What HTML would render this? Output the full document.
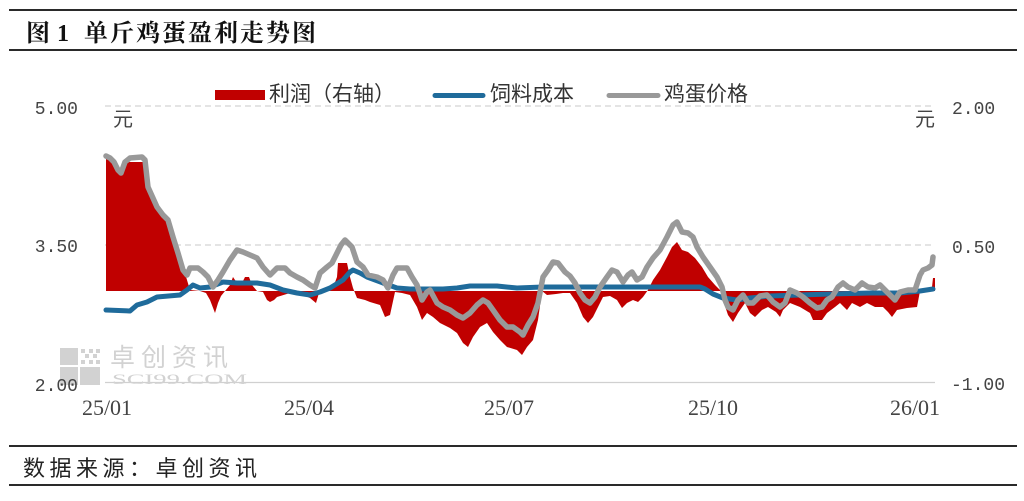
<!DOCTYPE html>
<html><head><meta charset="utf-8"><style>
html,body{margin:0;padding:0;background:#fff;}
svg{display:block;}
</style></head><body>
<svg width="1024" height="501" viewBox="0 0 1024 501" xmlns="http://www.w3.org/2000/svg">
<rect width="1024" height="501" fill="#fff"/>
<!-- frame lines -->
<line x1="9" y1="10" x2="1017" y2="10" stroke="#2a2a2a" stroke-width="2"/>
<line x1="9" y1="50" x2="1017" y2="50" stroke="#2a2a2a" stroke-width="2"/>
<line x1="9" y1="446" x2="1017" y2="446" stroke="#2a2a2a" stroke-width="2"/>
<line x1="9" y1="485" x2="1017" y2="485" stroke="#2a2a2a" stroke-width="2"/>
<!-- title -->
<g font-family="'Noto Serif CJK SC','Liberation Serif',serif" font-weight="bold" font-size="24" fill="#111">
<text x="26" y="41">图</text>
<text x="57" y="41" font-family="'Liberation Serif',serif">1</text>
<text x="84" y="41" letter-spacing="2">单斤鸡蛋盈利走势图</text>
</g>
<!-- source -->
<text x="23" y="476" font-family="'Liberation Sans','Noto Sans CJK SC',sans-serif" font-size="22" letter-spacing="4.5" fill="#222">数据来源：卓创资讯</text>

<!-- gridlines -->
<line x1="105" y1="106" x2="935" y2="106" stroke="#c8c8c8" stroke-width="1" stroke-dasharray="6,4"/>
<line x1="105" y1="245" x2="935" y2="245" stroke="#c8c8c8" stroke-width="1" stroke-dasharray="6,4"/>
<line x1="105" y1="382.5" x2="935" y2="382.5" stroke="#d0d0d0" stroke-width="1.2"/>

<!-- watermark -->
<g fill="#d2d2d2">
<rect x="60" y="348" width="18" height="17"/>
<rect x="60" y="367" width="18" height="18"/>
<rect x="80" y="367" width="20" height="18"/>
<rect x="81" y="349" width="4" height="4"/><rect x="89" y="349" width="4" height="4"/><rect x="96" y="349" width="4" height="4"/>
<rect x="85" y="354" width="4" height="4"/><rect x="93" y="354" width="4" height="4"/>
<rect x="81" y="360" width="4" height="4"/><rect x="89" y="360" width="4" height="4"/><rect x="96" y="360" width="4" height="4"/>
<text x="110" y="366" font-family="'Liberation Sans','Noto Sans CJK SC',sans-serif" font-size="25" letter-spacing="6">卓创资讯</text>
<text x="112" y="384" font-family="'Liberation Serif',serif" font-size="15" textLength="135" lengthAdjust="spacingAndGlyphs">SCI99.COM</text>
</g>

<!-- profit area -->
<polygon fill="#c00000" points="106,291 106,158 110,160 116,166 120,171 124,166 127,162 143,162 146,172 148,190 152,200 157,211 165,218 172,233 180,257 187,280 190,290 200,291 206,293 210,300 215,313 218,303 221,296 225,291 230,285 233,277 237,283 241,285 245,277 249,277 252,285 257,291 263,292 267,300 270,302 274,300 277,297 290,293 303,295 310,298 316,303 319,293 325,291 330,289 334,285 337,277 338,263 347,263 350,277 353,288 357,298 365,300 370,302 380,305 385,317 390,315 395,292 402,293 410,295 417,307 422,320 427,313 433,317 440,323 450,328 457,333 463,343 468,347 473,337 480,327 487,323 493,332 500,340 507,347 517,350 522,355 527,347 533,340 538,320 542,291 547,295 556,294 563,293 570,293 577,303 583,317 588,323 593,317 598,307 603,297 610,296 617,300 622,308 627,303 633,300 638,302 643,297 648,290 653,280 660,270 667,257 672,247 677,242 682,250 688,252 695,258 702,267 708,277 715,285 720,290 723,300 728,315 733,322 738,313 745,303 750,313 755,317 762,310 768,307 776,312 780,317 783,310 790,303 800,307 810,313 813,320 822,320 827,313 835,307 840,303 847,310 852,303 860,307 867,303 875,307 883,307 888,312 892,317 897,310 907,308 917,307 920,291 928,288 932,287 933,278 935,278 935,291"/>

<!-- feed cost -->
<polyline fill="none" stroke="#1f6b9b" stroke-width="5" stroke-linejoin="round" stroke-linecap="round" points="106,310 130,311 137,305 147,302 157,297 180,295 187,290 193,285 200,288 210,287 223,282 237,283 257,283 270,285 283,290 297,293 310,295 320,292 330,288 343,280 350,272 353,270 360,273 367,277 383,283 397,288 410,289 443,289 457,288 470,286 497,286 517,288 543,287 580,287 700,287 705,289 713,294 723,298 737,300 750,298 770,296 800,295 830,294 870,293 900,293 920,291 933,289"/>

<!-- egg price -->
<polyline fill="none" stroke="#999999" stroke-width="5.5" stroke-linejoin="round" stroke-linecap="round" points="106,156 110,158 114,162 118,170 121,173 125,162 130,158 142,157 145,160 148,187 157,207 163,215 168,220 173,237 178,253 183,270 187,275 190,268 198,268 203,272 208,277 213,287 218,280 223,272 230,260 237,250 243,252 250,255 257,258 263,267 270,275 277,268 285,268 290,273 297,277 303,280 310,285 315,288 320,273 327,267 332,263 337,253 341,245 345,240 352,247 357,262 363,267 368,275 377,277 383,280 388,288 393,275 397,268 407,268 412,277 417,285 422,300 427,292 430,290 437,303 443,307 450,310 457,315 463,318 470,313 477,305 483,300 488,303 493,310 500,320 507,327 513,327 520,332 523,335 528,325 533,317 538,303 543,277 548,270 553,262 558,263 565,272 570,276 575,283 580,293 585,300 590,303 595,297 600,287 607,277 612,270 617,272 623,282 628,275 632,272 637,280 642,277 647,267 653,258 660,250 667,237 673,225 677,222 682,232 688,233 693,237 697,247 703,257 710,267 717,277 722,287 725,300 728,307 733,310 738,300 743,295 748,303 753,303 760,296 767,295 773,302 780,307 785,303 790,290 797,293 803,297 810,303 817,308 822,307 827,300 832,297 838,287 843,283 848,287 855,290 862,283 868,287 875,288 880,285 885,290 890,295 895,300 900,292 908,290 915,290 920,275 923,270 928,268 932,265 933,257"/>

<!-- legend -->
<rect x="215" y="90" width="50" height="10" fill="#c00000"/>
<line x1="435" y1="95.5" x2="483" y2="95.5" stroke="#1f6b9b" stroke-width="5" stroke-linecap="round"/>
<line x1="609" y1="95.5" x2="658" y2="95.5" stroke="#999999" stroke-width="5" stroke-linecap="round"/>
<g font-family="'Liberation Sans','Noto Sans CJK SC',sans-serif" font-size="21" fill="#333">
<text x="269" y="101">利润（右轴）</text>
<text x="490" y="101">饲料成本</text>
<text x="664" y="101">鸡蛋价格</text>
</g>

<!-- axis labels -->
<g font-family="'Liberation Mono',monospace" font-size="18" fill="#444">
<text x="78" y="114" text-anchor="end">5.00</text>
<text x="78" y="252" text-anchor="end">3.50</text>
<text x="78" y="391" text-anchor="end">2.00</text>
<text x="952" y="114">2.00</text>
<text x="952" y="253">0.50</text>
<text x="951" y="390">-1.00</text>
</g>
<g font-family="'Liberation Sans','Noto Sans CJK SC',sans-serif" font-size="20" fill="#444">
<text x="113" y="126">元</text>
<text x="915" y="126">元</text>
</g>
<g font-family="'Liberation Serif',serif" font-size="22" fill="#444" text-anchor="middle">
<text x="107" y="415">25/01</text>
<text x="309" y="415">25/04</text>
<text x="509" y="415">25/07</text>
<text x="713" y="415">25/10</text>
<text x="915" y="415">26/01</text>
</g>
</svg>
</body></html>
